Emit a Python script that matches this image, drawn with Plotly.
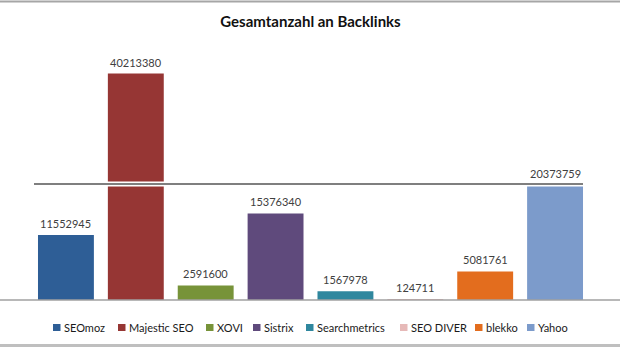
import plotly.graph_objects as go

# ---- data ----
categories = ["SEOmoz", "Majestic SEO", "XOVI", "Sistrix", "Searchmetrics",
              "SEO DIVER", "blekko", "Yahoo"]
backlinks = [11552945, 40213380, 2591600, 15376340, 1567978, 124711, 5081761, 20373759]
colors = ["#2E5E96", "#963634", "#779339", "#5F4A7C", "#2F879E",
          "#E6B9B8", "#E36D1E", "#7C9BCB"]
title_text = "Gesamtanzahl an Backlinks"

# ---- layout constants ----
W, H = 620, 348
ML, MR, MT, MB = 31, 30, 50, 48
PW, PH = W - ML - MR, H - MT - MB
FONT = "Lato, Open Sans, sans-serif"


def px_x(px):
    return (px - ML) / PW


def px_y(py):
    return (H - MB - py) / PH


fig = go.Figure()
fig.add_trace(go.Bar(
    x=categories, y=backlinks,
    marker=dict(color=colors, line=dict(width=0)),
    showlegend=False, hoverinfo="x+y",
))

annotations = []
for c, v in zip(categories, backlinks):
    annotations.append(dict(
        x=c, y=v, xref="x", yref="y", text=str(v), showarrow=False,
        yanchor="bottom", yshift=3,
        font=dict(family=FONT, size=11, color="#404040"),
    ))

shapes = []
# frame lines (top / bottom) and baseline
shapes.append(dict(type="line", xref="paper", yref="paper",
                   x0=px_x(0), x1=px_x(W), y0=px_y(1.5), y1=px_y(1.5),
                   line=dict(color="#A6A6A6", width=2), layer="above"))
shapes.append(dict(type="line", xref="paper", yref="paper",
                   x0=px_x(0), x1=px_x(W), y0=px_y(345.5), y1=px_y(345.5),
                   line=dict(color="#BFBFBF", width=3), layer="above"))
shapes.append(dict(type="line", xref="paper", yref="paper",
                   x0=px_x(0), x1=px_x(W), y0=0, y1=0,
                   line=dict(color="#A0A0A0", width=1.5), layer="above"))
# horizontal cut line with white halo
shapes.append(dict(type="line", xref="paper", yref="paper",
                   x0=px_x(34), x1=px_x(583), y0=px_y(184), y1=px_y(184),
                   line=dict(color="#FFFFFF", width=5), layer="above"))
shapes.append(dict(type="line", xref="paper", yref="paper",
                   x0=px_x(34), x1=px_x(583), y0=px_y(184), y1=px_y(184),
                   line=dict(color="#7F7F7F", width=2), layer="above"))

# manual legend
legend_x_px = [53, 118, 206, 253, 306, 400, 475, 527]
for name, col, lx in zip(categories, colors, legend_x_px):
    shapes.append(dict(type="rect", xref="paper", yref="paper",
                       x0=px_x(lx), x1=px_x(lx + 7.5),
                       y0=px_y(331), y1=px_y(324),
                       fillcolor=col, line=dict(width=0)))
    annotations.append(dict(
        x=px_x(lx + 8.5), y=px_y(327.7), xref="paper", yref="paper",
        text=name, showarrow=False, xanchor="left", yanchor="middle",
        font=dict(family=FONT, size=11, color="#1a1a1a"),
    ))

fig.update_layout(
    width=W, height=H,
    margin=dict(l=ML, r=MR, t=MT, b=MB, pad=0),
    paper_bgcolor="white", plot_bgcolor="white",
    bargap=0.2,
    title=dict(text="<b>" + title_text + "</b>", x=0.5, xref="paper",
               y=1 - 22 / H, yref="container", xanchor="center", yanchor="middle",
               font=dict(family=FONT, size=15, color="#111111")),
    xaxis=dict(showticklabels=False, showgrid=False, zeroline=False,
               showline=False, ticks=""),
    yaxis=dict(range=[0, 44.4e6], showticklabels=False, showgrid=False,
               zeroline=False, showline=False, ticks=""),
    annotations=annotations,
    shapes=shapes,
    showlegend=False,
)

fig.write_html("out.html")
